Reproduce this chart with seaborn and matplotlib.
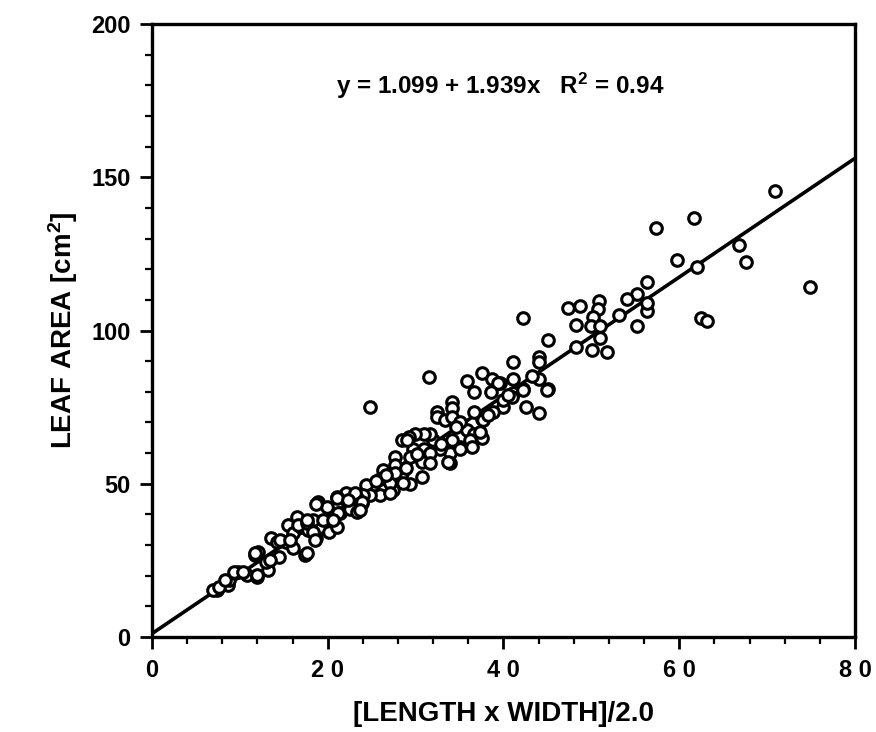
import numpy as np
import pandas as pd
import seaborn as sns
import matplotlib.pyplot as plt
from matplotlib.ticker import MultipleLocator

lw_half = [
    70.9, 61.7, 57.4, 59.7, 62.0, 66.8, 67.6, 74.9, 62.5, 63.2,
    56.3, 55.2, 54.0, 56.3, 56.3, 55.2, 53.1, 50.9, 50.7, 50.2,
    50.0, 51.0, 51.0, 50.1, 51.8, 48.7, 47.3, 48.2, 48.2, 45.1,
    42.2, 44.0, 44.0, 41.1, 41.1, 44.0, 45.1, 39.6, 41.1, 42.2,
    24.8, 31.5, 37.5, 35.8, 36.6, 38.7, 39.4, 38.6, 40.0, 38.8,
    41.0, 42.6, 44.0, 44.9, 42.2, 37.5, 36.6, 34.1, 34.1, 32.4,
    32.4, 33.3, 34.1, 35.0, 35.8, 36.6, 37.6, 36.2, 35.0, 34.1,
    33.9, 33.9, 32.8, 32.0, 31.6, 30.9, 29.9, 29.2, 28.4, 29.7,
    30.9, 31.6, 30.7, 31.6, 29.4, 27.6, 27.6, 28.4, 27.4, 26.3,
    25.9, 25.2, 24.4, 29.4, 30.7, 27.4, 25.9, 24.8, 24.0, 23.3,
    22.1, 21.0, 21.0, 22.5, 23.9, 20.6, 33.7,
    7.4, 8.6, 8.8, 9.4, 9.8, 10.8, 11.9, 11.7, 12.1, 13.2,
    13.0, 14.4, 13.6, 14.2, 15.3, 16.1, 17.4, 15.5, 16.5, 16.1,
    17.0, 17.8, 18.7, 19.1, 20.1, 21.0, 18.9, 19.9, 21.0, 21.4,
    22.5, 23.1, 23.3, 18.3,
    7.0, 7.6, 8.3, 9.3, 10.4, 11.9, 11.7, 13.4, 14.6, 15.7,
    17.6, 16.6, 17.6, 18.3, 18.5, 18.7,
    22.3, 23.9, 23.7, 21.2, 17.6, 19.5, 20.6, 27.1, 27.6, 28.6,
    27.1, 29.0, 35.0, 37.7, 37.3, 35.0, 36.4,
    26.6, 28.9, 32.9, 34.6, 38.2, 39.9, 40.5, 43.3, 25.5, 30.2,
]
leaf_area = [
    145.5, 136.8, 133.5, 123.0, 120.8, 127.9, 122.3, 114.3, 104.2, 103.1,
    116.0, 112.0, 110.4, 106.4, 109.0, 101.6, 105.0, 109.7, 107.2, 104.3,
    101.6, 101.6, 97.7, 93.6, 92.9, 108.0, 107.3, 101.7, 94.7, 96.9,
    104.1, 91.5, 89.8, 89.7, 84.1, 84.1, 80.9, 82.8, 79.6, 80.9,
    75.0, 85.0, 86.0, 83.6, 80.0, 84.1, 82.8, 80.0, 75.1, 73.5,
    78.4, 75.1, 73.2, 80.6, 80.6, 71.3, 73.5, 76.8, 74.6, 73.5,
    71.9, 70.8, 71.9, 69.7, 67.5, 66.4, 64.8, 64.3, 62.1, 64.3,
    60.0, 56.7, 61.5, 64.3, 66.4, 66.4, 66.4, 65.4, 64.3, 61.5,
    61.5, 60.0, 57.2, 56.7, 58.8, 58.8, 56.1, 53.4, 51.7, 54.5,
    51.7, 49.6, 49.6, 49.9, 52.3, 48.0, 46.3, 46.3, 46.3, 45.2,
    46.9, 45.8, 42.5, 43.1, 43.6, 37.1, 57.2,
    15.3, 17.0, 18.6, 20.9, 21.3, 20.2, 19.7, 26.8, 27.8, 21.9,
    24.6, 26.2, 32.2, 31.1, 31.1, 28.9, 26.8, 36.5, 39.3, 33.8,
    36.0, 34.9, 32.2, 36.0, 34.4, 36.0, 44.1, 42.5, 45.2, 40.4,
    41.9, 46.9, 40.8, 38.2,
    15.3, 16.2, 18.6, 21.3, 21.3, 20.2, 27.3, 25.1, 31.6, 31.6,
    27.3, 36.5, 37.1, 34.4, 31.6, 43.5,
    44.7, 44.2, 41.4, 40.4, 38.2, 38.2, 38.2, 50.1, 53.4, 50.1,
    46.9, 64.3, 70.3, 70.8, 67.0, 61.5, 62.1,
    52.9, 55.3, 63.0, 68.4, 72.6, 77.2, 79.1, 85.2, 50.8, 59.6,
]

# Fitted regression printed on the chart
intercept = 1.099
slope = 1.939
r_squared = 0.94
fit_x = np.array([0, 80])
fit_y = intercept + slope * fit_x

df = pd.DataFrame({"lw": lw_half, "area": leaf_area})
fit = pd.DataFrame({"lw": fit_x, "area": fit_y})

sns.set_style("ticks")
plt.rcParams['font.family'] = ['Liberation Sans', 'DejaVu Sans']
plt.rcParams['font.weight'] = 'bold'
plt.rcParams['mathtext.default'] = 'regular'
plt.rcParams['text.color'] = 'black'
plt.rcParams['axes.labelcolor'] = 'black'
plt.rcParams['xtick.color'] = 'black'
plt.rcParams['ytick.color'] = 'black'
plt.rcParams['axes.edgecolor'] = 'black'

fig = plt.figure(figsize=(8.76, 7.32), dpi=100)
ax = fig.add_axes([0.1735, 0.1298, 0.8025, 0.8372])

sns.lineplot(data=fit, x="lw", y="area", color="black", linewidth=2.6, ax=ax)
sns.scatterplot(data=df, x="lw", y="area", marker="o", s=70,
                facecolor="white", edgecolor="black", linewidth=2.2,
                zorder=3, ax=ax)

ax.set_xlim(0, 80)
ax.set_ylim(0, 200)
ax.xaxis.set_minor_locator(MultipleLocator(4))
ax.yaxis.set_major_locator(MultipleLocator(50))
ax.yaxis.set_minor_locator(MultipleLocator(10))
ax.set_xticks(range(0, 81, 20))
ax.set_xticklabels(["0", "2 0", "4 0", "6 0", "8 0"])

ax.tick_params(which="major", direction="out", length=8.5, width=2,
               labelsize=17, pad=7)
ax.tick_params(which="minor", direction="out", length=5, width=1.6)
for lab in ax.get_xticklabels() + ax.get_yticklabels():
    lab.set_fontweight("bold")

for sp in ax.spines.values():
    sp.set_linewidth(2.4)
    sp.set_visible(True)

ax.set_xlabel("[LENGTH x WIDTH]/2.0", fontsize=20, fontweight="bold", labelpad=14)
ax.set_ylabel("LEAF AREA [cm$^{2}$]", fontsize=20, fontweight="bold", labelpad=8)

ax.text(39.6, 180, f"y = {intercept:.3f} + {slope:.3f}x   R$^{{2}}$ = {r_squared:.2f}",
        ha="center", va="center", fontsize=17.5, fontweight="bold")

fig.savefig("out.png", dpi=100)
